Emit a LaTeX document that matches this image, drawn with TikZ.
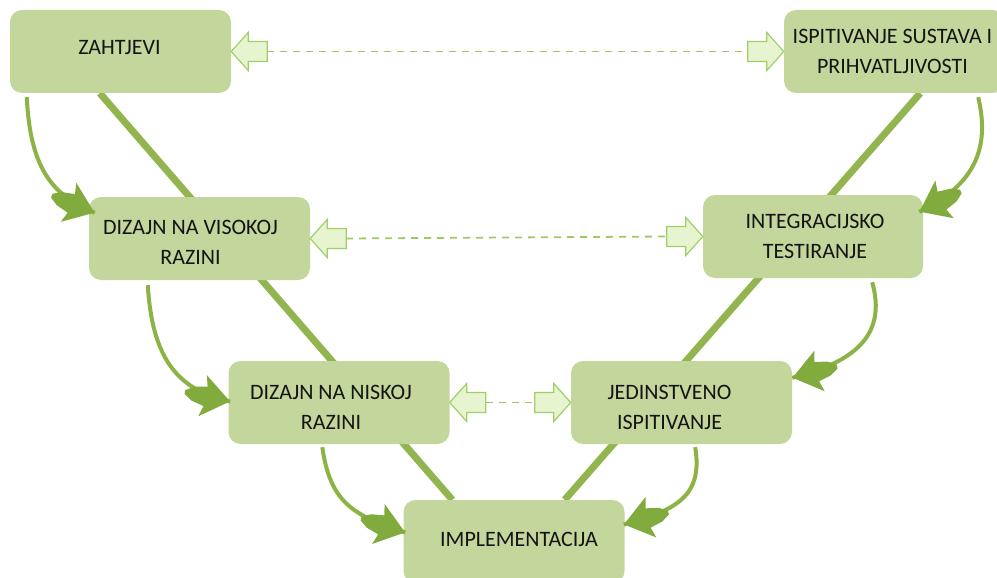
\documentclass[tikz,border=0pt]{standalone}
\usepackage{fontspec}
\setmainfont{Carlito}
\usetikzlibrary{calc,decorations.markings}
\pgfdeclarelayer{background}
\pgfsetlayers{background,main}
\definecolor{boxfill}{HTML}{C3D69B}
\definecolor{vline}{HTML}{92B550}
\definecolor{carrow}{HTML}{8CB346}
\definecolor{chead}{HTML}{82AB3D}
\definecolor{bafill}{HTML}{E6F5CF}
\definecolor{badraw}{HTML}{A2CE68}
\definecolor{dashc}{HTML}{9FC965}
\definecolor{txt}{HTML}{141414}
\tikzset{
  box/.style={rounded corners=12pt, fill=boxfill, draw=none, minimum width=221pt, minimum height=83pt, inner sep=0pt},
  lbl/.style={align=center, text=txt, inner sep=0pt, font=\fontsize{22}{30.5}\selectfont},
  vee/.style={line width=7pt, vline},
  curvearr/.style={line width=4pt, carrow,
    postaction={decorate, decoration={markings, mark=at position 0.998 with {
      \fill[chead] (0pt,0pt) -- (-28pt,21pt) -- (-25pt,10pt) -- (-38pt,7pt) -- (-46pt,2pt) -- (-46pt,-2pt) -- (-38pt,-7pt) -- (-25pt,-10pt) -- (-28pt,-21pt) -- cycle;}}}},
  blockarr/.style={fill=bafill, draw=badraw, line width=1.2pt, line join=miter},
  dashl/.style={dashc, line width=1.8pt, dash pattern=on 7pt off 6pt},
  larrow/.pic={\filldraw[blockarr] (0,0) -- (17,-19) -- (17,-10) -- (36,-10) -- (36,10) -- (17,10) -- (17,19) -- cycle;},
  rarrow/.pic={\filldraw[blockarr] (0,0) -- (-17,-19) -- (-17,-10) -- (-36,-10) -- (-36,10) -- (-17,10) -- (-17,19) -- cycle;},
}
\begin{document}
\begin{tikzpicture}[x=1pt,y=-1pt]
\path[use as bounding box] (0,0) rectangle (997,578);
\clip (0,0) rectangle (997,578);
% boxes
\node[box] (zah) at (120.5,51.5) {};
\node[box] (isp) at (894.5,51.5) {};
\node[box] (dvis) at (199.5,238.5) {};
\node[box, minimum width=220pt] (integ) at (813,236.5) {};
\node[box] (dnis) at (339,402.5) {};
\node[box] (jed) at (681.5,402.5) {};
\node[box] (impl) at (514,541.5) {};
% texts
\node[lbl] (zaht) at ($(zah)+(-1,-4)$) {ZAHTJEVI};
\node[lbl] (ispt) at ($(isp)+(-2,0)$) {ISPITIVANJE SUSTAVA I\\PRIHVATLJIVOSTI};
\node[lbl] (dvist) at ($(dvis)+(-9,4)$) {DIZAJN NA VISOKOJ\\RAZINI};
\node[lbl] (integt) at ($(integ)+(2,0)$) {INTEGRACIJSKO\\TESTIRANJE};
\node[lbl] (dnist) at ($(dnis)+(-8,5)$) {DIZAJN NA NISKOJ\\RAZINI};
\node[lbl] (jedt) at ($(jed)+(-12,5)$) {JEDINSTVENO\\ISPITIVANJE};
\node[lbl] (implt) at ($(impl)+(5,-2)$) {IMPLEMENTACIJA};
% V lines behind
\begin{pgfonlayer}{background}
\draw[vee] ($(zah.south west)+(90,0)$) -- ($(impl.north west)+(49,0)$);
\draw[vee] ($(isp.south east)+(-85,0)$) -- ($(impl.north east)+(-60,0)$);
\end{pgfonlayer}
% curved arrows
\draw[curvearr] ($(zah.south west)+(17,4)$) .. controls (30,165) and (50,195) .. ($(dvis.north west)+(6,16)$);
\draw[curvearr] ($(dvis.south west)+(59,5)$) .. controls (152,355) and (175,390) .. ($(dnis.west)+(2,-1)$);
\draw[curvearr] ($(dnis.south west)+(94,3)$) .. controls (330,500) and (350,515) .. ($(impl.west)+(2,-9)$);
\draw[curvearr] ($(isp.south east)+(-27,4)$) .. controls (992,155) and (968,188) .. ($(integ.north east)+(-4,17)$);
\draw[curvearr] ($(integ.south east)+(-51,4)$) .. controls (887,335) and (855,362) .. ($(jed.north east)+(0,17)$);
\draw[curvearr] ($(jed.south east)+(-97,3)$) .. controls (703,495) and (678,510) .. ($(impl.east)+(-1,-17)$);
% block arrows and dashed links
\pic at (zah.east) {larrow};
\pic at (isp.west) {rarrow};
\draw[dashl] ([xshift=36pt]zah.east) -- ([xshift=-36pt]isp.west);
\pic at (dvis.east) {larrow};
\pic at (integ.west) {rarrow};
\draw[dashl] ([xshift=36pt]dvis.east) -- ([xshift=-36pt]integ.west);
\pic at (dnis.east) {larrow};
\pic at (jed.west) {rarrow};
\draw[dashl] ([xshift=36pt]dnis.east) -- ([xshift=-36pt]jed.west);
\end{tikzpicture}
\end{document}
